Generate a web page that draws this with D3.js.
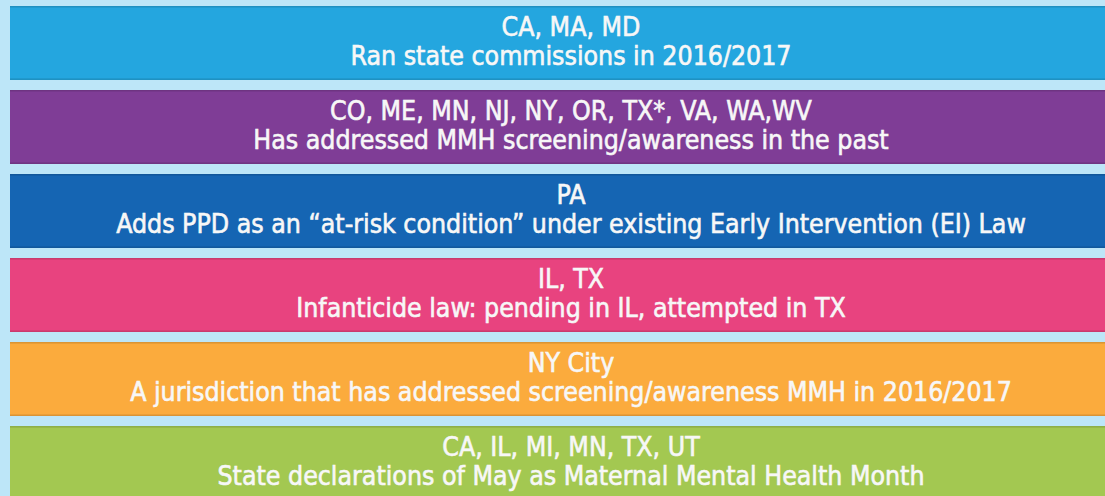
<!DOCTYPE html>
<head>
  <meta charset="utf-8">
  <script src="https://d3js.org/d3.v7.min.js"></script>
  <style>
    body { margin: 0; background: #bde6f8; }
    svg { display: block; }
  </style>
</head>
<body>
  <svg></svg>
  <script>
    const width = 1105;
    const height = 496;

    // row data
    const states = [
      'CA, MA, MD',
      'CO, ME, MN, NJ, NY, OR, TX*, VA, WA,WV',
      'PA',
      'IL, TX',
      'NY City',
      'CA, IL, MI, MN, TX, UT'
    ];
    const descriptions = [
      'Ran state commissions in 2016/2017',
      'Has addressed MMH screening/awareness in the past',
      'Adds PPD as an \u201cat-risk condition\u201d under existing Early Intervention (EI) Law',
      'Infanticide law: pending in IL, attempted in TX',
      'A jurisdiction that has addressed screening/awareness MMH in 2016/2017',
      'State declarations of May as Maternal Mental Health Month'
    ];
    const colors = ['#24a6df', '#7f3d96', '#1565b3', '#e8437f', '#fbab3d', '#a3c851'];

    const rows = states.map((s, i) => ({ states: s, desc: descriptions[i], color: colors[i] }));

    const svg = d3.select('svg')
      .attr('width', width)
      .attr('height', height);

    svg.append('rect')
      .attr('width', width)
      .attr('height', height)
      .attr('fill', '#bde6f8');

    const y = d3.scaleBand()
      .domain(d3.range(rows.length))
      .range([6, 500])
      .paddingInner(0.12);

    const cx = 571;

    const g = svg.selectAll('g.row')
      .data(rows)
      .enter().append('g')
      .attr('class', 'row')
      .attr('transform', (d, i) => `translate(0,${y(i)})`);

    g.append('rect')
      .attr('x', 10)
      .attr('width', width)
      .attr('height', y.bandwidth())
      .attr('fill', d => d.color);

    // thin darker edges top and bottom
    g.append('rect')
      .attr('x', 10)
      .attr('width', width)
      .attr('height', 1.5)
      .attr('fill', d => d3.color(d.color).darker(0.4));
    g.append('rect')
      .attr('x', 10)
      .attr('y', y.bandwidth() - 1.5)
      .attr('width', width)
      .attr('height', 1.5)
      .attr('fill', d => d3.color(d.color).darker(0.4));

    // medium-weight lettering: regular face with a thin stroke
    const txt = g.append('text')
      .attr('text-anchor', 'middle')
      .attr('fill', '#f7f7f7')
      .attr('stroke', '#f7f7f7')
      .attr('stroke-width', 0.6)
      .attr('transform', `translate(${cx},0) scale(0.98,1)`)
      .style('font-family', '"DejaVu Sans Condensed", "DejaVu Sans", sans-serif')
      .style('font-stretch', 'condensed')
      .style('font-size', '27px');

    txt.append('tspan')
      .attr('x', 0)
      .attr('y', 30)
      .text(d => d.states);

    txt.append('tspan')
      .attr('x', 0)
      .attr('y', 59)
      .text(d => d.desc);
  </script>
</body>
